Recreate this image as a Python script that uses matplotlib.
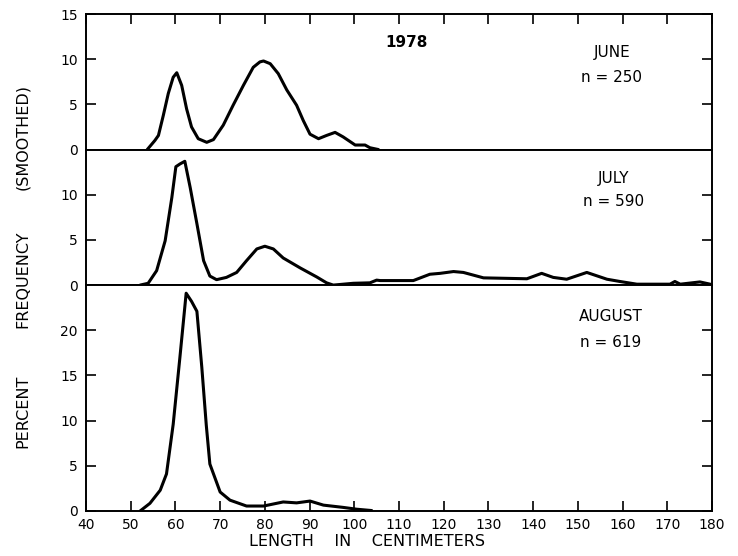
import numpy as np
import matplotlib

matplotlib.use("Agg")
import matplotlib.pyplot as plt

# length (cm) and smoothed percent frequency
june_len = [53.7, 55.4, 56.2, 57.3, 58.4, 59.5, 60.3, 61.4, 62.5, 63.6, 65.1,
            67.0, 68.5, 70.7, 72.9, 75.2, 77.4, 78.9, 79.7, 81.2, 83.0, 84.9,
            87.1, 88.6, 90.1, 92.0, 93.8, 95.7, 97.5, 100.2, 102.4, 103.5,
            105.4]
june_pct = [0.0, 1.0, 1.56, 3.8, 6.2, 8.0, 8.5, 7.1, 4.5, 2.5, 1.2,
            0.8, 1.1, 2.7, 4.9, 7.1, 9.1, 9.7, 9.8, 9.5, 8.4, 6.6,
            4.9, 3.2, 1.7, 1.2, 1.56, 1.9, 1.4, 0.5, 0.5, 0.2,
            0.0]

july_len = [52.1, 53.9, 55.8, 57.7, 59.2, 60.1, 61.0, 62.1, 63.3, 64.8, 66.3,
            67.7, 69.2, 71.4, 73.7, 75.9, 78.2, 80.0, 81.9, 84.1, 87.9, 91.6,
            93.8, 95.3, 99.8, 103.5, 105.0, 105.8, 113.2, 116.9, 119.2, 122.2,
            124.4, 128.9, 138.6, 141.9, 144.5, 147.5, 152.0, 156.5, 159.4,
            163.2, 170.6, 171.7, 172.9, 177.3, 179.6]
july_pct = [0.0, 0.2, 1.6, 4.9, 9.7, 13.1, 13.4, 13.7, 10.8, 6.8, 2.7,
            1.0, 0.6, 0.85, 1.4, 2.7, 4.0, 4.3, 4.0, 3.0, 1.9, 0.9,
            0.25, 0.0, 0.2, 0.25, 0.55, 0.5, 0.5, 1.2, 1.3, 1.5,
            1.4, 0.8, 0.7, 1.3, 0.85, 0.65, 1.4, 0.65, 0.4,
            0.1, 0.1, 0.4, 0.1, 0.35, 0.1]

aug_len = [52.1, 54.3, 56.6, 58.0, 59.5, 61.0, 62.4, 63.6, 64.8, 65.9, 66.9,
           67.7, 70.0, 72.2, 75.9, 79.7, 84.1, 87.1, 90.1, 93.1, 97.5, 100.5,
           103.9]
aug_pct = [0.0, 0.85, 2.3, 4.1, 9.6, 17.0, 24.1, 23.2, 22.1, 15.9, 9.5,
           5.2, 2.1, 1.2, 0.55, 0.55, 1.0, 0.9, 1.1, 0.65, 0.4, 0.2,
           0.05]

months = ["JUNE", "JULY", "AUGUST"]
sample_sizes = [250, 590, 619]
ymax = [15, 15, 25]
ytick_sets = [[0, 5, 10, 15], [0, 5, 10], [0, 5, 10, 15, 20]]
xticks = list(range(40, 190, 10))

plt.rcParams["font.family"] = "DejaVu Sans"

fig = plt.figure(figsize=(7.38, 5.56), dpi=100)
gs = fig.add_gridspec(3, 1, height_ratios=ymax, hspace=0,
                      left=86 / 738, right=712 / 738,
                      top=1 - 14 / 556, bottom=1 - 511 / 556)
axes = [fig.add_subplot(gs[i]) for i in range(3)]

series = [(june_len, june_pct), (july_len, july_pct), (aug_len, aug_pct)]
# label anchors in data units (x, y of month name, y of n)
label_pos = [(157.6, 10.7, 8.0), (158.0, 11.8, 9.2), (157.4, 21.5, 18.6)]

for i, ax in enumerate(axes):
    x, y = series[i]
    ax.plot(x, y, color="black", linewidth=2.2, solid_joinstyle="round",
            solid_capstyle="round")
    ax.set_xlim(40, 180)
    ax.set_ylim(0, ymax[i])
    ax.set_yticks(ytick_sets[i])
    ax.set_xticks(xticks)
    ax.tick_params(direction="in", length=7, width=1.2, labelsize=10,
                   pad=6, right=True, colors="black")
    for sp in ax.spines.values():
        sp.set_linewidth(1.4)
    ax.tick_params(axis="x", top=(i == 0), bottom=(i == 2),
                   labelbottom=(i == 2), pad=5)
    lx, ly_month, ly_n = label_pos[i]
    ax.text(lx, ly_month, months[i], ha="center", va="center", fontsize=11)
    ax.text(lx, ly_n, f"n = {sample_sizes[i]}", ha="center", va="center",
            fontsize=11)

axes[0].text(111.6, 11.8, "1978", ha="center", va="center", fontsize=11,
             fontweight="bold")

fig.text(367 / 738, 1 - 542 / 556, "LENGTH    IN    CENTIMETERS",
         ha="center", va="center", fontsize=11.5)
for word, ypix in [("(SMOOTHED)", 137), ("FREQUENCY", 279), ("PERCENT", 411)]:
    fig.text(23 / 738, 1 - ypix / 556, word, rotation=90,
             ha="center", va="center", fontsize=11.5)

fig.savefig("out.png", dpi=100)
